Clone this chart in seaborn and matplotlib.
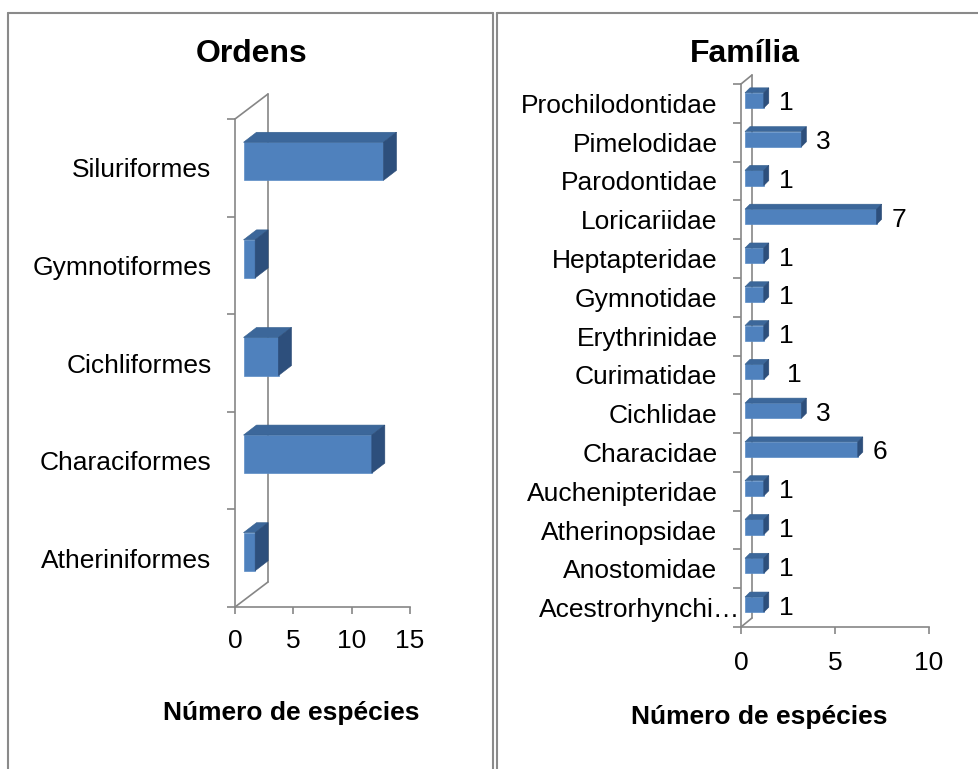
import numpy as np
import pandas as pd
import matplotlib
matplotlib.use("Agg")
import matplotlib.pyplot as plt
import matplotlib.transforms as mtransforms
from matplotlib.patches import Polygon
from matplotlib.lines import Line2D
import seaborn as sns

# ---------------- data ----------------
ordens = ["Siluriformes", "Gymnotiformes", "Cichliformes", "Characiformes", "Atheriniformes"]
ordens_n = [12, 1, 3, 11, 1]

familias = ["Prochilodontidae", "Pimelodidae", "Parodontidae", "Loricariidae",
            "Heptapteridae", "Gymnotidae", "Erythrinidae", "Curimatidae",
            "Cichlidae", "Characidae", "Auchenipteridae", "Atherinopsidae",
            "Anostomidae", "Acestrorhynchi…"]
familias_n = [1, 3, 1, 7, 1, 1, 1, 1, 3, 6, 1, 1, 1, 1]

ticks_ordens = [0, 5, 10, 15]
ticks_familias = [0, 5, 10]

titulo_esq = "Ordens"
titulo_dir = "Família"
eixo_x = "Número de espécies"

# ---------------- style ----------------
W, H, DPI = 979, 769, 100
sns.set_theme(style="white")
plt.rcParams["font.family"] = ["Liberation Sans", "DejaVu Sans"]

GRAY = "#868686"
FRONT = "#4F81BD"
TOP = "#3C679A"
SIDE = "#2D4F7C"
FS = 19

fig = plt.figure(figsize=(W / DPI, H / DPI), dpi=DPI)
fig.patch.set_facecolor("white")


def px_axes(x0, x1, ytop, ybot):
    return fig.add_axes([x0 / W, 1 - ybot / H, (x1 - x0) / W, (ybot - ytop) / H])


def shift(dx, dy):
    return mtransforms.ScaledTranslation(dx / DPI, dy / DPI, fig.dpi_scale_trans)


def draw_panel(ax, cats, vals, xmax, xticks, front, depth, wall, xpad):
    n = len(cats)
    df = pd.DataFrame({"cat": cats, "n": vals})
    sns.barplot(data=df, y="cat", x="n", order=cats, color=FRONT, width=0.39,
                saturation=1, ax=ax, zorder=3, edgecolor="#5b8cc6", linewidth=0.5)
    ax.set_xlim(0, xmax)
    ax.set_ylim(n - 0.5, -0.5)
    ax.set_xlabel("")
    ax.set_ylabel("")
    ax.set_facecolor("none")

    # 3D: shift front faces and add top / side faces
    ftr = ax.transData + shift(*front)
    inv = ax.transData.inverted()
    dx, dy = depth
    for p in list(ax.patches):
        p.set_transform(ftr)
        x0, y0 = p.get_x(), p.get_y()
        x1, y1 = x0 + p.get_width(), y0 + p.get_height()
        pts = ftr.transform([[x0, y0], [x1, y1]])
        l, r = pts[:, 0].min(), pts[:, 0].max()
        b, t = pts[:, 1].min(), pts[:, 1].max()
        top = inv.transform([[l, t], [r, t], [r + dx, t + dy], [l + dx, t + dy]])
        side = inv.transform([[r, b], [r, t], [r + dx, t + dy], [r + dx, b + dy]])
        ax.add_patch(Polygon(top, closed=True, fc=TOP, ec="#35608f", lw=0.4,
                             zorder=4, clip_on=False))
        ax.add_patch(Polygon(side, closed=True, fc=SIDE, ec="#2a4a75", lw=0.4,
                             zorder=4, clip_on=False))
    ax.set_xlim(0, xmax)
    ax.set_ylim(n - 0.5, -0.5)

    # back wall lines
    wtr = ax.transAxes + shift(*wall)
    ainv = ax.transAxes.inverted()
    ax.add_line(Line2D([0, 0], [0, 1], transform=wtr, color=GRAY,
                       lw=1.2, zorder=1, clip_on=False))
    for corner in [(0, 0), (0, 1)]:
        p0 = ax.transAxes.transform([corner])[0]
        p1 = wtr.transform([corner])[0]
        q = ainv.transform([p0, p1])
        ax.add_line(Line2D(q[:, 0], q[:, 1], transform=ax.transAxes, color=GRAY,
                           lw=1.2, zorder=1, clip_on=False))

    # spines / ticks
    for s in ["top", "right"]:
        ax.spines[s].set_visible(False)
    for s in ["left", "bottom"]:
        ax.spines[s].set_color(GRAY)
        ax.spines[s].set_linewidth(1.2)
    ax.set_xticks(xticks)
    ax.set_xticklabels([str(v) for v in xticks])
    ax.set_yticks(np.arange(-0.5, n), minor=True)
    ax.tick_params(axis="y", which="major", left=False, length=0, pad=17,
                   labelsize=FS, labelcolor="black")
    ax.tick_params(axis="y", which="minor", left=True, length=6, width=1.2,
                   color=GRAY, direction="out")
    ax.tick_params(axis="x", which="major", bottom=True, length=5, width=1.2,
                   color=GRAY, direction="out", pad=xpad, labelsize=FS, labelcolor="black")
    ax.tick_params(axis="x", which="minor", bottom=False)


# ---------------- left panel ----------------
axL = px_axes(235, 410, 119, 607)
draw_panel(axL, ordens, ordens_n, 15, ticks_ordens, front=(8.5, 6.5), depth=(13, 10),
           wall=(33, 25), xpad=10.5)

# ---------------- right panel ----------------
axR = px_axes(741, 929, 84, 627)
draw_panel(axR, familias, familias_n, 10, ticks_familias, front=(4, 3), depth=(5, 5),
           wall=(11, 9), xpad=12)

for i, v in enumerate(familias_n):
    nudge = 8 if familias[i] == "Curimatidae" else 0
    axR.annotate(str(v), xy=(v, i), xytext=((19 + nudge) * 72 / DPI, 0),
                 textcoords="offset points", ha="left", va="center",
                 fontsize=FS, color="black", zorder=5)

# the truncated label overflows to the right in the original
for lbl in axR.get_yticklabels():
    if lbl.get_text().endswith("…"):
        lbl.set_transform(lbl.get_transform() + shift(23, 0))

# ---------------- titles / axis titles ----------------
fig.text(251.5 / W, 1 - 54 / H, titulo_esq, ha="center", va="center",
         fontsize=23, fontweight="bold", color="black")
fig.text(745 / W, 1 - 54 / H, titulo_dir, ha="center", va="center",
         fontsize=23, fontweight="bold", color="black")
fig.text(291 / W, 1 - 713 / H, eixo_x, ha="center", va="center",
         fontsize=FS, fontweight="bold", color="black")
fig.text(759 / W, 1 - 717 / H, eixo_x, ha="center", va="center",
         fontsize=FS, fontweight="bold", color="black")

# ---------------- table borders ----------------
BC = "#8a8a8a"
def hline(y, x0, x1):
    fig.add_artist(Line2D([x0 / W, x1 / W], [1 - y / H, 1 - y / H], color=BC, lw=1.5))
def vline(x, y0, y1):
    fig.add_artist(Line2D([x / W, x / W], [1 - y0 / H, 1 - y1 / H], color=BC, lw=1.5))

hline(13, 8, 493)
hline(13, 497, W)
vline(8, 13, H)
vline(493, 13, H)
vline(497, 13, H)

fig.savefig("out.png", dpi=DPI, facecolor="white")
